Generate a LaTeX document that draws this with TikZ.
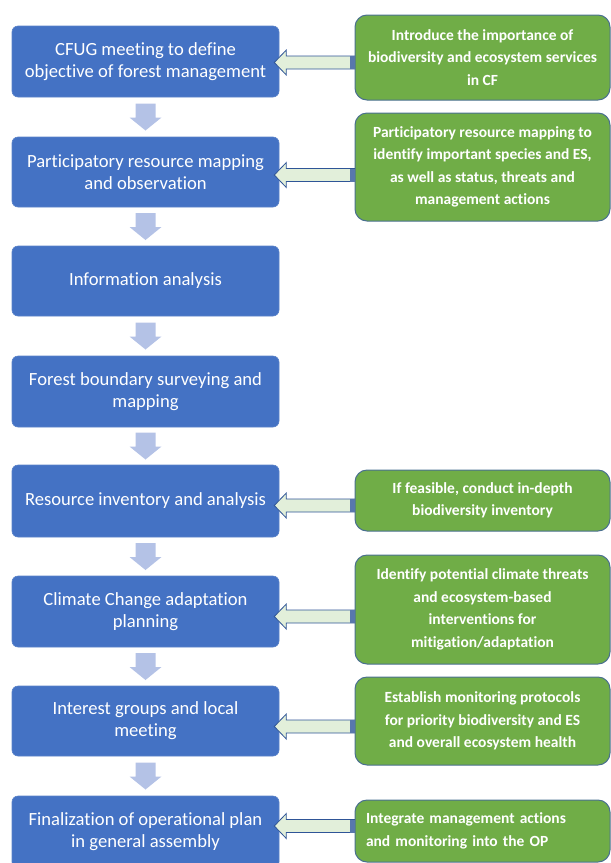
\documentclass[tikz,border=0pt]{standalone}
\usepackage{fontspec}
\setmainfont{Carlito}[Ligatures=NoCommon]
\usetikzlibrary{calc}
\definecolor{bluebox}{HTML}{4472C4}
\definecolor{blueedge}{HTML}{5A82C8}
\definecolor{greenbox}{HTML}{70AD47}
\definecolor{greenedge}{HTML}{4A7090}
\definecolor{downarr}{HTML}{B4C2E6}
\definecolor{arrfill}{HTML}{E2EFDA}
\definecolor{arredge}{HTML}{2F5597}
\tikzset{
  stepbox/.style={fill=bluebox, draw=blueedge, line width=0.6pt, rounded corners=6pt,
    minimum width=267pt, inner sep=0pt, align=center, text=white,
    font=\fontsize{18.6}{22}\selectfont},
  notebox/.style={fill=greenbox, draw=greenedge, line width=1pt, rounded corners=12pt,
    minimum width=255pt, inner sep=0pt, align=center, text=white,
    font=\fontsize{15.5}{22.5}\selectfont\bfseries},
  downstyle/.style={fill=downarr, draw=none},
  larrow/.style={fill=arrfill, draw=arredge, line width=0.8pt, line join=miter},
}
\newcommand\darr[2]{%
  \coordinate (m) at ($(#1.south)!0.5!(#2.north)$);
  \fill[downstyle] ($(m)+(-10,-13.5)$) -- ($(m)+(10,-13.5)$) -- ($(m)+(10,0.5)$)
    -- ($(m)+(16,0.5)$) -- ($(m)+(0,13.5)$) -- ($(m)+(-16,0.5)$) -- ($(m)+(-10,0.5)$) -- cycle;}
\newcommand\larr[3]{%
  \coordinate (t) at ($(#1.east)+(-5,#3)$);
  \coordinate (e) at ($(#2.west |- #1.east)+(0,#3)$);
  \draw[larrow] (t) -- ($(t)+(12,-12.5)$) -- ($(t)+(12,-6.5)$) -- ($(e)+(0,-6.5)$)
    -- ($(e)+(0,6.5)$) -- ($(t)+(12,6.5)$) -- ($(t)+(12,12.5)$) -- cycle;
  \fill[arredge!80!white] ($(e)+(-5,-6.5)$) rectangle ($(e)+(0,6.5)$);}
\begin{document}
\begin{tikzpicture}[x=1pt,y=-1pt]
\useasboundingbox (0,0) rectangle (611,863);
\clip (0,0) rectangle (611,863);
% steps
\node[stepbox, minimum height=71pt] (b1) at (145.5,61.5) {CFUG meeting to define\\objective of forest management};
\node[stepbox, minimum height=70pt] (b2) at (145.5,172) {Participatory resource mapping\\and observation};
\node[stepbox, minimum height=70pt] (b3) at (145.5,281) {Information analysis};
\node[stepbox, minimum height=71pt] (b4) at (145.5,391.5) {Forest boundary surveying and\\mapping};
\node[stepbox, minimum height=72pt] (b5) at (145.5,501) {Resource inventory and analysis};
\node[stepbox, minimum height=71pt] (b6) at (145.5,611.5) {Climate Change adaptation\\planning};
\node[stepbox, minimum height=70pt] (b7) at (145.5,721) {Interest groups and local\\meeting};
\node[stepbox, minimum height=72pt] (b8) at (145.5,832) {Finalization of operational plan\\in general assembly};
% notes
\node[notebox, minimum height=85pt] (g1) at (482.5,57.5) {Introduce the importance of\\biodiversity and ecosystem services\\in CF};
\node[notebox, minimum height=108pt] (g2) at (482.5,167) {Participatory resource mapping to\\identify important species and ES,\\as well as status, threats and\\management actions};
\node[notebox, minimum height=61pt] (g5) at (482.5,500.5) {If feasible, conduct in-depth\\biodiversity inventory};
\node[notebox, minimum height=109pt] (g6) at (482.5,609.5) {Identify potential climate threats\\and ecosystem-based\\interventions for\\mitigation/adaptation};
\node[notebox, minimum height=88pt] (g7) at (482.5,721) {Establish monitoring protocols\\for priority biodiversity and ES\\and overall ecosystem health};
\node[notebox, minimum height=62pt, align=left, text width=233pt] (g8) at (482.5,831) {Integrate management actions\\and monitoring into the OP};
% down arrows
\darr{b1}{b2}
\darr{b2}{b3}
\darr{b3}{b4}
\darr{b4}{b5}
\darr{b5}{b6}
\darr{b6}{b7}
\darr{b7}{b8}
% left arrows
\larr{b1}{g1}{1}
\larr{b2}{g2}{3}
\larr{b5}{g5}{4.5}
\larr{b6}{g6}{5}
\larr{b7}{g7}{5.5}
\larr{b8}{g8}{-6}
\end{tikzpicture}
\end{document}
